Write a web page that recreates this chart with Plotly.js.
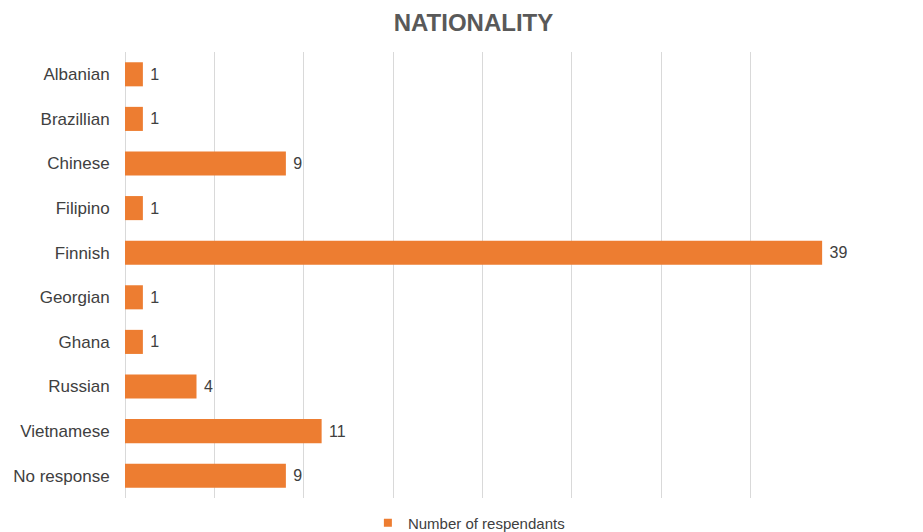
<!DOCTYPE html>
<html>
<head>
<meta charset="utf-8">
<script src="https://cdn.plot.ly/plotly-3.0.1.min.js"></script>
<style>html,body{margin:0;padding:0;background:#fff;}#chart{width:923px;height:532px;}</style>
</head>
<body>
<div id="chart"></div>
<script>
const categories = ["Albanian","Brazillian","Chinese","Filipino","Finnish","Georgian","Ghana","Russian","Vietnamese","No response"];
const counts = [1,1,9,1,39,1,1,4,11,9];
const seriesName = "Number of respendants";

const FONT = 'Liberation Sans, Arial, sans-serif';

const bars = {
  type: 'bar',
  orientation: 'h',
  y: categories,
  x: counts,
  name: seriesName,
  showlegend: false,
  marker: {color: '#ED7D31'},
  width: 0.54,
  text: counts.map(v => '\u00a0' + v),
  textposition: 'outside',
  cliponaxis: false,
  textfont: {family: FONT, size: 16, color: '#404040'},
  hoverinfo: 'x+y'
};

const legendItem = {
  type: 'scatter',
  mode: 'markers',
  x: [null], y: [null],
  name: seriesName,
  marker: {color: '#ED7D31', symbol: 'square', size: 8},
  showlegend: true
};

const layout = {
  width: 923, height: 532,
  margin: {l: 125, r: 83, t: 52, b: 34},
  paper_bgcolor: '#fff', plot_bgcolor: '#fff',
  title: {text: '<b>NATIONALITY</b>', x: 0.513, xanchor: 'center', xref: 'container', y: 0.958, yanchor: 'middle',
    font: {family: FONT, size: 24, color: '#595959'}},
  xaxis: {range: [0, 40], dtick: 5, showticklabels: false, showgrid: true, gridcolor: '#d9d9d9', gridwidth: 1,
    zeroline: true, zerolinecolor: '#d9d9d9', zerolinewidth: 1, showline: false, ticks: '', fixedrange: true},
  yaxis: {autorange: 'reversed', showgrid: false, zeroline: false, showline: false, ticks: 'outside', ticklen: 11, tickcolor: 'rgba(0,0,0,0)',
    tickfont: {family: FONT, size: 17, color: '#404040'}},
  showlegend: true,
  legend: {orientation: 'h', x: 0.508, xanchor: 'center', xref: 'container', y: 0.017, yanchor: 'middle', yref: 'container',
    font: {family: FONT, size: 15, color: '#404040'}, itemwidth: 30, bgcolor: 'rgba(0,0,0,0)'},
  font: {family: FONT}
};

Plotly.newPlot('chart', [bars, legendItem], layout, {displayModeBar: false, staticPlot: true});
</script>
</body>
</html>
